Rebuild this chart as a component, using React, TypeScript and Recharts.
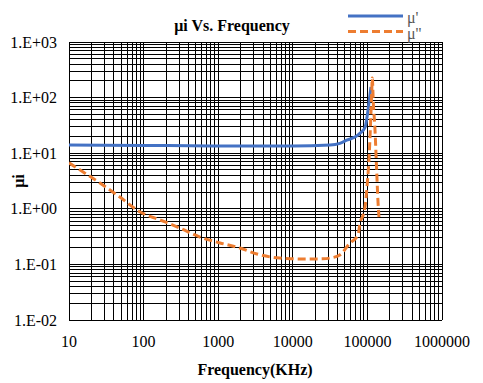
import { LineChart, Line, XAxis, YAxis, CartesianGrid } from "recharts"

// decade boundaries for the two log axes
const xDecades = [10, 100, 1000, 10000, 100000, 1000000]
const yDecades = [0.01, 0.1, 1, 10, 100, 1000]

// mu' (real part)
const muRealFreq = [10, 100, 1000, 10000, 31600, 42700, 54000, 68200, 80000, 92900, 102000, 107000, 111700]
const muReal = [14, 13.8, 13.5, 13.5, 14, 15, 17.3, 19.5, 23, 29, 60, 100, 155]

// mu'' (imaginary part)
const muImagFreq = [
  10, 26, 48, 90, 166, 307, 570, 1057, 1960, 3300, 6700, 15000, 25000, 31600, 42700, 58500, 75000, 79600, 87000,
  92900, 99800, 106000, 110700, 114200, 116300, 120000, 126000, 133000, 139000, 143000,
]
const muImag = [
  6.7, 2.9, 1.63, 0.875, 0.63, 0.45, 0.31, 0.243, 0.197, 0.154, 0.13, 0.125, 0.126, 0.13, 0.148, 0.243, 0.34, 0.556,
  0.75, 1.08, 2.9, 10, 40, 121, 225, 80, 29, 5, 1.27, 0.71,
]

const realData = muRealFreq.map((f, i) => ({ f, v: muReal[i] }))
const imagData = muImagFreq.map((f, i) => ({ f, v: muImag[i] }))

const steps = [1, 2, 3, 4, 5, 6, 7, 8, 9]
const withMinors = (decades: number[]) =>
  decades
    .slice(0, -1)
    .flatMap((d) => steps.map((k) => k * d))
    .concat(decades[decades.length - 1])

const xTicks = withMinors(xDecades)
const yTicks = withMinors(yDecades)

const isDecade = (v: number) => Math.abs(Math.log10(v) - Math.round(Math.log10(v))) < 1e-6

const font = "Liberation Serif, Times New Roman, serif"

const XTick = ({ x, y, payload }: any) => {
  if (!isDecade(payload.value)) return null
  return (
    <text x={x} y={y} dy="0.71em" textAnchor="middle" fontSize={16} fontFamily={font} fill="#000">
      {String(payload.value)}
    </text>
  )
}

const YTick = ({ x, y, payload }: any) => {
  if (!isDecade(payload.value)) return null
  const e = Math.round(Math.log10(payload.value))
  return (
    <text x={x} y={y} dy="0.355em" textAnchor="end" fontSize={16} fontFamily={font} fill="#000">
      {`1.E${e < 0 ? "-" : "+"}${String(Math.abs(e)).padStart(2, "0")}`}
    </text>
  )
}

export default function App() {
  return (
    <div style={{ position: "absolute", left: 0, top: 0, width: 483, height: 383, background: "#fff" }}>
      <style>{`.recharts-cartesian-grid line { shape-rendering: crispEdges; }`}</style>
      <LineChart width={483} height={383} margin={{ top: 42, right: 41, left: 9, bottom: 8 }}>
        <CartesianGrid stroke="#000" strokeWidth={1} />
        <XAxis
          type="number"
          dataKey="f"
          scale="log"
          domain={[10, 1000000]}
          ticks={xTicks}
          interval={0}
          height={55}
          axisLine={false}
          tickLine={false}
          tickMargin={10}
          tick={<XTick />}
          allowDataOverflow
        />
        <YAxis
          type="number"
          scale="log"
          domain={[0.01, 1000]}
          ticks={yTicks}
          interval={0}
          width={60}
          axisLine={false}
          tickLine={false}
          tickMargin={6}
          tick={<YTick />}
          allowDataOverflow
        />
        <Line
          data={realData}
          dataKey="v"
          type="monotone"
          stroke="#4472C4"
          strokeWidth={3}
          dot={false}
          isAnimationActive={false}
        />
        <Line
          data={imagData}
          dataKey="v"
          type="monotone"
          stroke="#ED7D31"
          strokeWidth={3}
          strokeDasharray="8 4"
          dot={false}
          isAnimationActive={false}
        />
      </LineChart>
      <svg
        width={483}
        height={383}
        style={{ position: "absolute", left: 0, top: 0, pointerEvents: "none" }}
        fontFamily={font}
      >
        <text x={232} y={25} textAnchor="middle" dominantBaseline="central" fontSize={16} fontWeight="bold" fill="#000">
          μi Vs. Frequency
        </text>
        <text x={255} y={369} textAnchor="middle" dominantBaseline="central" fontSize={16} fontWeight="bold" fill="#000">
          Frequency(KHz)
        </text>
        <text
          x={18}
          y={181}
          textAnchor="middle"
          dominantBaseline="central"
          fontSize={16}
          fontWeight="bold"
          fill="#000"
          transform="rotate(-90 18 181)"
        >
          μi
        </text>
        <line x1={348} y1={16} x2={403} y2={16} stroke="#4472C4" strokeWidth={3} />
        <line x1={348} y1={31.5} x2={403} y2={31.5} stroke="#ED7D31" strokeWidth={3} strokeDasharray="8 4" />
        <text x={407} y={17} dominantBaseline="central" fontSize={16} fill="#595959">
          μ'
        </text>
        <text x={407} y={33} dominantBaseline="central" fontSize={16} fill="#595959">
          μ''
        </text>
      </svg>
    </div>
  )
}
